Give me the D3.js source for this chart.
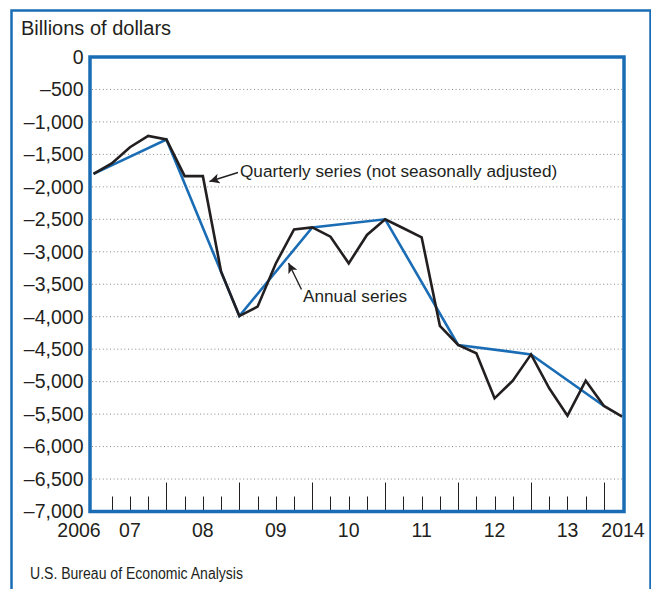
<!DOCTYPE html>
<html><head><meta charset="utf-8">
<script src="https://cdn.jsdelivr.net/npm/d3@7"></script>
<style>
html,body{margin:0;padding:0;background:#fff;}
svg{display:block;font-family:"Liberation Sans",Arial,Helvetica,sans-serif;}
</style></head>
<body>
<svg id="chart" width="651" height="589"></svg>
<script>
// ---- data ----
const quarters = ["2006 Q4","2007 Q1","2007 Q2","2007 Q3","2007 Q4","2008 Q1","2008 Q2","2008 Q3","2008 Q4",
  "2009 Q1","2009 Q2","2009 Q3","2009 Q4","2010 Q1","2010 Q2","2010 Q3","2010 Q4","2011 Q1","2011 Q2","2011 Q3","2011 Q4",
  "2012 Q1","2012 Q2","2012 Q3","2012 Q4","2013 Q1","2013 Q2","2013 Q3","2013 Q4","2014 Q1"];
const quarterlyValues = [-1800,-1640,-1390,-1215,-1270,-1835,-1835,-3306,-3990,
  -3845,-3180,-2655,-2625,-2767,-3178,-2741,-2500,-2638,-2777,-4140,-4435,
  -4564,-5257,-4985,-4580,-5103,-5524,-4985,-5375,-5540];
const annualYears = ["2006","2007","2008","2009","2010","2011","2012","2013"];
const annualValues = [-1800,-1270,-3990,-2625,-2500,-4435,-4580,-5375];
const yTicks = [0,-500,-1000,-1500,-2000,-2500,-3000,-3500,-4000,-4500,-5000,-5500,-6000,-6500,-7000];
const xYearLabels = ["2006","07","08","09","10","11","12","13","2014"];
const titleText = "Billions of dollars";
const sourceText = "U.S. Bureau of Economic Analysis";
const quarterlyNote = "Quarterly series (not seasonally adjusted)";
const annualNote = "Annual series";

// ---- helpers ----
// quarter label -> fractional year at end of quarter
const qTime = q => { const [y, qq] = q.split(" Q"); return +y + (+qq) / 4; };
const blue = "#1a6db5", dark = "#231f20";

const svg = d3.select("#chart");
const L = 90, R = 624, T = 57, B = 511.5;
const x = d3.scaleLinear().domain([2006.952, 2014.275]).range([L, R]);
const y = d3.scaleLinear().domain([0, -7000]).range([T, B]);

// outer frame
svg.append("rect").attr("x", 11.5).attr("y", 10.5).attr("width", 639).attr("height", 620)
  .attr("fill", "none").attr("stroke", blue).attr("stroke-width", 2.5);

// title
svg.append("text").attr("x", 21).attr("y", 34.5).attr("font-size", 20).attr("fill", dark).text(titleText);

// gridlines
svg.append("g").selectAll("line").data(yTicks.filter(v => v < 0 && v > -7000)).join("line")
  .attr("x1", L + 2).attr("x2", R - 2).attr("y1", d => y(d)).attr("y2", d => y(d))
  .attr("stroke", "#888").attr("stroke-width", 1).attr("stroke-dasharray", "1,2.6");

// y labels
const fmt = v => v === 0 ? "0" : "\u2013" + d3.format(",")(-v);
svg.append("g").selectAll("text").data(yTicks).join("text")
  .attr("x", 83.5).attr("y", d => y(d) + 6.8).attr("text-anchor", "end")
  .attr("font-size", 19.5).attr("fill", dark).text(fmt);

// quarter ticks
const tickQuarters = quarters.slice(1, quarters.length - 1);
svg.append("g").selectAll("line").data(tickQuarters).join("line")
  .attr("x1", d => Math.round(x(qTime(d))) + 0.5).attr("x2", d => Math.round(x(qTime(d))) + 0.5)
  .attr("y1", B).attr("y2", d => d.endsWith("Q4") ? B - 29 : B - 15)
  .attr("stroke", dark).attr("stroke-width", 1);

// x labels
const xLabelPos = (d, i) => {
  if (i === 0) return x.range()[0] - 11;
  if (i === xYearLabels.length - 1) return x.range()[1] - 1;
  return x(2007 + i - 0.5);
};
svg.append("g").selectAll("text").data(xYearLabels).join("text")
  .attr("x", xLabelPos).attr("y", 537).attr("text-anchor", "middle")
  .attr("font-size", 19.5).attr("fill", dark).text(d => d);

// annual line
const annualPts = annualYears.map((yr, i) => [x(+yr + 1), y(annualValues[i])]);
svg.append("path").attr("d", d3.line()(annualPts)).attr("fill", "none")
  .attr("stroke", blue).attr("stroke-width", 2.6).attr("stroke-linejoin", "miter");

// quarterly line
const qPts = quarters.map((q, i) => [x(qTime(q)), y(quarterlyValues[i])]);
svg.append("path").attr("d", d3.line()(qPts)).attr("fill", "none")
  .attr("stroke", dark).attr("stroke-width", 2.6).attr("stroke-linejoin", "miter");

// plot frame
svg.append("rect").attr("x", L).attr("y", T).attr("width", R - L).attr("height", B - T)
  .attr("fill", "none").attr("stroke", blue).attr("stroke-width", 3.5);

// annotations
svg.append("defs").append("marker").attr("id", "ah").attr("viewBox", "0 0 10 10")
  .attr("refX", 10).attr("refY", 5).attr("markerWidth", 10).attr("markerHeight", 10)
  .attr("markerUnits", "userSpaceOnUse").attr("orient", "auto")
  .append("path").attr("d", "M0,0 L10,5 L0,10 L2.5,5 Z").attr("fill", dark);

function arrow(x1, y1, x2, y2) {
  svg.append("line").attr("x1", x1).attr("y1", y1).attr("x2", x2).attr("y2", y2)
    .attr("stroke", dark).attr("stroke-width", 1.4).attr("marker-end", "url(#ah)");
}
svg.append("text").attr("x", 240).attr("y", 177).attr("font-size", 17.2).attr("fill", dark).text(quarterlyNote);
arrow(238, 172.5, 209.5, 181.5);
svg.append("text").attr("x", 303).attr("y", 302).attr("font-size", 17.2).attr("fill", dark).text(annualNote);
arrow(301.5, 289.5, 288.5, 263);

// source
svg.append("text").attr("x", 30).attr("y", 579).attr("font-size", 16).attr("fill", dark)
  .attr("textLength", 213).attr("lengthAdjust", "spacingAndGlyphs").text(sourceText);
</script>
</body></html>
